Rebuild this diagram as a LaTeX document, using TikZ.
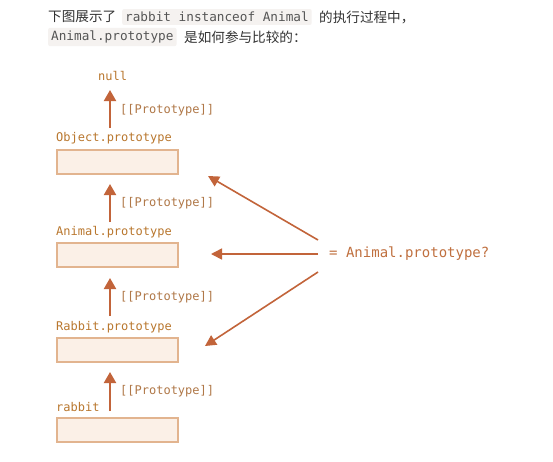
\documentclass[tikz,border=0pt]{standalone}
\usepackage{fontspec}
\setmainfont{Noto Sans CJK SC}
\newfontfamily\cjk{Noto Sans CJK SC}
\newfontfamily\mono{DejaVu Sans Mono}
\usetikzlibrary{arrows.meta}
\definecolor{arrowc}{HTML}{C2643A}
\definecolor{labc}{HTML}{B9772E}
\definecolor{protoc}{HTML}{B07848}
\definecolor{qc}{HTML}{C0703F}
\definecolor{boxfill}{HTML}{FBF0E7}
\definecolor{boxdraw}{HTML}{E2B48F}
\definecolor{codebg}{HTML}{F5F2F0}
\definecolor{codetext}{HTML}{555555}
\definecolor{bodytext}{HTML}{333333}
\tikzset{
  objbox/.style={draw=boxdraw, line width=2pt, fill=boxfill, minimum width=121pt, minimum height=24pt, inner sep=0pt},
  objlab/.style={anchor=west, inner sep=0pt, text=labc, font=\mono\fontsize{12}{12}\selectfont},
  protolab/.style={anchor=west, inner sep=0pt, text=protoc, font=\mono\fontsize{12}{12}\selectfont},
  uparrow/.style={draw=arrowc, line width=2pt, -{Triangle[length=11pt,width=12pt]}},
  cmparrow/.style={draw=arrowc, line width=1.6pt, -{Triangle[length=11pt,width=11pt]}},
  codespan/.style={fill=codebg, rounded corners=2pt, inner xsep=3pt, inner ysep=3pt, text=codetext, font=\mono\fontsize{12.7}{13}\selectfont, anchor=west},
  bodyt/.style={text=bodytext, font=\cjk\fontsize{13.6}{14}\selectfont, inner sep=0pt, anchor=west}
}
\begin{document}
\begin{tikzpicture}[x=1pt,y=-1pt]
\useasboundingbox (0,0) rectangle (553,461);
\fill[white] (0,0) rectangle (553,461);
% header
\node[bodyt] (h1) at (48,17) {下图展示了};
\node[codespan] (c1) at (122,17) {rabbit instanceof Animal};
\node[bodyt] (h2) at (319,17) {的执行过程中，};
\node[codespan] (c2) at (48,37) {Animal.prototype};
\node[bodyt] (h3) at (184,37) {是如何参与比较的：};
% diagram
\node[objlab] (null) at (98,76) {null};
\node[objlab] (objl) at (56,138) {Object.prototype};
\node[objbox] (objb) at (117.5,161.5) {};
\node[objlab] (anil) at (56,232) {Animal.prototype};
\node[objbox] (anib) at (117.5,255) {};
\node[objlab] (rabl) at (56,327) {Rabbit.prototype};
\node[objbox] (rabb) at (117.5,350) {};
\node[objlab] (rl) at (56,407) {rabbit};
\node[objbox] (rb) at (117.5,430) {};
% vertical arrows
\coordinate (a1s) at (110,128); \coordinate (a1e) at (110,90);
\coordinate (a2s) at (110,222); \coordinate (a2e) at (110,184);
\coordinate (a3s) at (110,316); \coordinate (a3e) at (110,278);
\coordinate (a4s) at (110,411); \coordinate (a4e) at (110,372);
\draw[uparrow] (a1s) -- (a1e);
\draw[uparrow] (a2s) -- (a2e);
\draw[uparrow] (a3s) -- (a3e);
\draw[uparrow] (a4s) -- (a4e);
\node[protolab] (p1) at (120,110) {[[Prototype]]};
\node[protolab] (p2) at (120,203) {[[Prototype]]};
\node[protolab] (p3) at (120,297) {[[Prototype]]};
\node[protolab] (p4) at (120,391) {[[Prototype]]};
% comparison
\node[anchor=west, inner sep=0pt, text=qc, font=\mono\fontsize{14}{14}\selectfont] (q) at (329,254) {= Animal.prototype?};
\coordinate (q1) at (318,240); \coordinate (t1) at (208,176);
\coordinate (q2) at (318,254); \coordinate (t2) at (211,254);
\coordinate (q3) at (318,272); \coordinate (t3) at (205,346);
\draw[cmparrow] (q1) -- (t1);
\draw[cmparrow] (q2) -- (t2);
\draw[cmparrow] (q3) -- (t3);
\end{tikzpicture}
\end{document}
